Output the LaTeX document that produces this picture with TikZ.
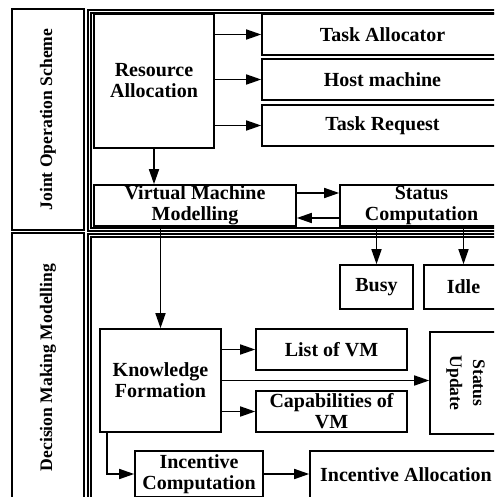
\documentclass[tikz,border=0pt]{standalone}
\usepackage{fontspec}
\setmainfont{Liberation Serif}
\usetikzlibrary{arrows.meta,positioning}

\begin{document}
\begin{tikzpicture}[x=0.5pt,y=-0.5pt,
	box/.style={draw,line width=0.8pt,align=center,inner sep=0pt,
		font=\fontsize{10}{10.5}\selectfont\bfseries},
	sidebox/.style={draw,line width=0.8pt,align=center,inner sep=0pt,
		font=\fontsize{8.8}{11.5}\selectfont\bfseries},
	arr/.style={-{Triangle[length=7.5pt,width=5pt]},line width=0.8pt},
	frame/.style={line width=0.7pt}]
	
	\useasboundingbox (0,0) rectangle (494,497);
	\clip (0,0) rectangle (494,497);
	
	% side labels and section frames
	\node[sidebox,rotate=90,minimum width=110.5pt,minimum height=36pt] (jos) at (48,119.5) {Joint Operation Scheme};
	\node[sidebox,rotate=90,minimum width=134.5pt,minimum height=36pt] (dmm) at (48,367.5) {Decision Making Modelling};
	
	\draw[frame] (88,10) rectangle (520,231);
	\draw[frame] (91,13) rectangle (520,228);
	\draw[frame] (88,234) rectangle (520,520);
	\draw[frame] (91,237) rectangle (520,520);
	
	% joint operation scheme
	\node[box,minimum width=60pt,minimum height=67pt] (ra) at (154,81) {Resource\\Allocation};
	\node[box,minimum width=120.5pt,minimum height=20.5pt] (ta) at (382.5,34.5) {Task Allocator};
	\node[box,minimum width=120.5pt,minimum height=20.5pt] (hm) at (382.5,79.5) {Host machine};
	\node[box,minimum width=120.5pt,minimum height=20.5pt] (tr) at (382.5,125.5) {Task Request};
	\node[box,minimum width=101pt,minimum height=20.5pt] (vmm) at (195,205.5) {Virtual Machine\\Modelling};
	\node[box,minimum width=81.5pt,minimum height=20.5pt] (sc) at (421.5,205.5) {Status\\Computation};
	
	\draw[arr] (ra.east |- ta) -- (ta.west);
	\draw[arr] (ra.east |- hm) -- (hm.west);
	\draw[arr] (ra.east |- tr) -- (tr.west);
	\draw[arr] (ra.south) -- (ra.south |- vmm.north);
	\draw[arr] ([yshift=6.25pt]vmm.east) -- ([yshift=6.25pt]vmm.east -| sc.west);
	\draw[arr] ([yshift=-6.25pt]sc.west) -- ([yshift=-6.25pt]sc.west -| vmm.east);
	
	% decision making modelling
	\node[box,minimum width=36.5pt,minimum height=22pt] (busy) at (376.5,287) {Busy};
	\node[box,minimum width=39.5pt,minimum height=22pt] (idle) at (463.5,287) {Idle};
	\node[box,minimum width=60.5pt,minimum height=51.5pt] (kf) at (160.5,380.5) {Knowledge\\Formation};
	\node[box,minimum width=75.5pt,minimum height=20.5pt] (lvm) at (331.5,349.5) {List of VM};
	\node[box,minimum width=75.5pt,minimum height=20.5pt] (cvm) at (331.5,411.5) {Capabilities of\\VM};
	\node[sidebox,rotate=-90,minimum width=51pt,minimum height=35.5pt] (su) at (465.5,383) {Status\\Update};
	\node[box,minimum width=64pt,minimum height=23pt] (ic) at (199,474) {Incentive\\Computation};
	\node[box,minimum width=96pt,minimum height=24pt] (ia) at (406,475) {Incentive Allocation};
	
	\draw[arr] (busy.north |- sc.south) -- (busy.north);
	\draw[arr] (idle.north |- sc.south) -- (idle.north);
	\draw[arr] (kf.north |- vmm.south) -- (kf.north);
	\draw[arr] (kf.east |- lvm) -- (lvm.west);
	\draw[arr] (kf.east) -- (kf.east -| su.south);
	\draw[arr] (kf.east |- cvm) -- (cvm.west);
	\draw[arr] ([xshift=4pt]kf.south west) |- (ic.west);
	\draw[arr] (ic.east) -- (ic.east -| ia.west);
	
\end{tikzpicture}
\end{document}
